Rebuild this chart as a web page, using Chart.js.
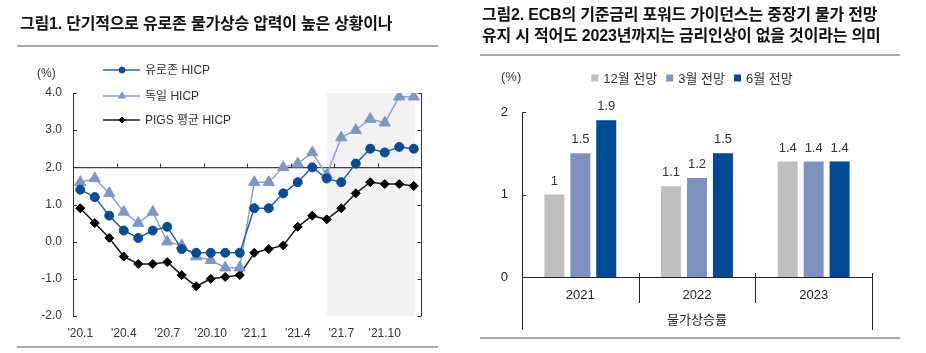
<!DOCTYPE html>
<html><head><meta charset="utf-8">
<script src="https://cdn.jsdelivr.net/npm/chart.js@4.4.1/dist/chart.umd.min.js"></script>
<style>
html,body{margin:0;padding:0;background:#fff;}
body{width:926px;height:353px;position:relative;overflow:hidden;font-family:"Liberation Sans","Noto Sans CJK KR",sans-serif;color:#111;}
.t{position:absolute;font-weight:bold;font-size:16px;line-height:21px;white-space:nowrap;letter-spacing:-0.2px;color:#111;}
.rule{position:absolute;height:2px;background:#a8a8a8;}
canvas{position:absolute;top:0;}
.unit{position:absolute;font-size:12px;line-height:14px;color:#333;white-space:nowrap;}
</style></head><body>
<canvas id="c1" width="440" height="353" style="left:0"></canvas>
<canvas id="c2" width="466" height="353" style="left:460px"></canvas>
<div class="t" style="left:20px;top:13px">그림1. 단기적으로 유로존 물가상승 압력이 높은 상황이나</div>
<div class="rule" style="left:17px;top:45px;width:421px"></div>
<div class="rule" style="left:17px;top:346px;width:421px"></div>
<div class="t" style="left:482px;top:4px">그림2. ECB의 기준금리 포워드 가이던스는 중장기 물가 전망</div>
<div class="t" style="left:482px;top:25px">유지 시 적어도 2023년까지는 금리인상이 없을 것이라는 의미</div>
<div class="rule" style="left:480px;top:54px;width:420px"></div>
<div class="rule" style="left:480px;top:337px;width:420px"></div>
<div class="unit" style="left:37px;top:66px">(%)</div>
<div class="unit" style="left:501px;top:70px;font-family:'Liberation Sans Narrow','Liberation Sans',sans-serif;font-size:13px">(%)</div>
<script>
// ---------- Chart 1 data ----------
const months = ["'20.1","'20.2","'20.3","'20.4","'20.5","'20.6","'20.7","'20.8","'20.9","'20.10","'20.11","'20.12",
                "'21.1","'21.2","'21.3","'21.4","'21.5","'21.6","'21.7","'21.8","'21.9","'21.10","'21.11","'21.12"];
const eurozone = [1.4,1.2,0.7,0.3,0.1,0.3,0.4,-0.2,-0.3,-0.3,-0.3,-0.3, 0.9,0.9,1.3,1.6,2.0,1.7,1.6,2.1,2.5,2.4,2.55,2.5];
const germany  = [1.6,1.7,1.3,0.8,0.5,0.8,0.0,-0.1,-0.4,-0.5,-0.7,-0.7, 1.6,1.6,2.0,2.1,2.4,1.8,2.8,3.0,3.3,3.2,3.9,3.9];
const pigs     = [0.9,0.5,0.1,-0.4,-0.6,-0.6,-0.55,-0.9,-1.2,-1.0,-0.95,-0.9, -0.3,-0.2,-0.1,0.4,0.7,0.6,0.9,1.3,1.6,1.55,1.55,1.5];
const seriesNames1 = ["유로존 HICP","독일 HICP","PIGS 평균 HICP"];
const shadeFrom = "'21.6", shadeTo = "'21.12";
const refLine = 2.0;

// ---------- Chart 2 data ----------
const years = ["2021","2022","2023"];
const decForecast = [1.0,1.1,1.4];
const marForecast = [1.5,1.2,1.4];
const junForecast = [1.9,1.5,1.4];
const seriesNames2 = ["12월 전망","3월 전망","6월 전망"];
const axisTitle2 = "물가상승률";

const FONT = '"Liberation Sans","Noto Sans CJK KR",sans-serif';
const NFONT = '"Liberation Sans Narrow","Liberation Sans","Noto Sans CJK KR",sans-serif';

function marker(ctx, style, x, y, r, fill, stroke){
  ctx.beginPath();
  if(style==='circle'){ ctx.arc(x,y,r,0,Math.PI*2); }
  else if(style==='triangle'){
    ctx.moveTo(x, y-r); ctx.lineTo(x+r*0.866, y+r*0.5); ctx.lineTo(x-r*0.866, y+r*0.5); ctx.closePath();
  } else { ctx.moveTo(x-r,y); ctx.lineTo(x,y-r); ctx.lineTo(x+r,y); ctx.lineTo(x,y+r); ctx.closePath(); }
  ctx.fillStyle=fill; ctx.fill();
  ctx.strokeStyle=stroke; ctx.lineWidth=1; ctx.stroke();
}

const decor1 = {
  id:'decor1',
  beforeDraw(chart){
    const {ctx, chartArea:a} = chart; const x=chart.scales.x;
    const x0 = x.getPixelForValue(months.indexOf(shadeFrom));
    const x1 = x.getPixelForValue(months.indexOf(shadeTo))+1;
    ctx.save(); ctx.fillStyle='#F2F2F2'; ctx.fillRect(x0,a.top,x1-x0,a.bottom-a.top); ctx.restore();
  },
  afterDraw(chart){
    const {ctx, chartArea:a} = chart; const x=chart.scales.x, y=chart.scales.y;
    ctx.save(); ctx.strokeStyle='#333'; ctx.lineWidth=1;
    ctx.beginPath();
    const rx = Math.round(a.right)+0.5;
    ctx.moveTo(rx,a.top); ctx.lineTo(rx,a.bottom);
    y.ticks.forEach(t=>{
      const py=Math.round(y.getPixelForValue(t.value))+0.5;
      ctx.moveTo(a.left,py); ctx.lineTo(a.left+4,py);
      ctx.moveTo(rx,py); ctx.lineTo(rx-4,py);
    });
    const y2 = Math.round(y.getPixelForValue(refLine))+0.5;
    for(let i=3;i<months.length;i+=3){
      const bx=Math.round((x.getPixelForValue(i-1)+x.getPixelForValue(i))/2)+0.5;
      ctx.moveTo(bx,y2); ctx.lineTo(bx,y2-4);
    }
    ctx.stroke();
    // legend
    const rows=[70,96,120], rr=[3,4,3];
    chart.data.datasets.forEach((ds,i)=>{
      const yy=rows[i];
      ctx.strokeStyle=ds.borderColor; ctx.lineWidth=1.5;
      ctx.beginPath(); ctx.moveTo(103,yy); ctx.lineTo(140,yy); ctx.stroke();
      marker(ctx, ds.pointStyle, 122, yy, rr[i], ds.pointBackgroundColor, ds.pointBorderColor);
      ctx.fillStyle='#333'; ctx.font='12px '+FONT; ctx.textBaseline='middle'; ctx.textAlign='left';
      ctx.fillText(ds.label,145,yy+1);
    });
    ctx.restore();
  }
};

new Chart(document.getElementById('c1'), {
  type:'line',
  data:{labels:months, datasets:[
    {label:seriesNames1[0], data:eurozone, borderColor:'#2A62A6', borderWidth:1.5, pointStyle:'circle', pointRadius:4.5,
     pointBackgroundColor:'#0A4C94', pointBorderColor:'#0A4C94', pointBorderWidth:1},
    {label:seriesNames1[1], data:germany, borderColor:'#8EA2CF', borderWidth:1.5, pointStyle:'triangle', pointRadius:6.5,
     pointBackgroundColor:'#8096C5', pointBorderColor:'#8096C5', pointBorderWidth:1},
    {label:seriesNames1[2], data:pigs, borderColor:'#1a1a1a', borderWidth:1.5, pointStyle:'rectRot', pointRadius:4.5,
     pointBackgroundColor:'#000', pointBorderColor:'#000', pointBorderWidth:1}
  ]},
  options:{
    responsive:false, devicePixelRatio:1, animation:false,
    layout:{padding:{top:93,right:19,bottom:12,left:0}},
    plugins:{legend:{display:false}, tooltip:{enabled:false}},
    scales:{
      x:{offset:true, grid:{display:false, drawTicks:false}, border:{display:false},
         afterFit(s){s.height=25;},
         ticks:{autoSkip:false, maxRotation:0, minRotation:0, padding:10, color:'#333', font:{family:FONT,size:12},
                callback:(v,i)=> i%3===0 ? months[i] : ''}},
      y:{min:-2, max:4, afterFit(s){s.width=73;},
         grid:{drawTicks:false, color:c=> c.tick && c.tick.value===refLine ? '#404040' : 'rgba(0,0,0,0)', lineWidth:1.2},
         border:{display:true, color:'#333', width:1},
         ticks:{stepSize:1, padding:11, color:'#333', font:{family:FONT,size:12}, callback:v=>Number(v).toFixed(1)}}
    }
  },
  plugins:[decor1]
});

// ---------- Chart 2 ----------
const decor2 = {
  id:'decor2',
  afterDraw(chart){
    const {ctx, chartArea:a} = chart; const x=chart.scales.x, y=chart.scales.y;
    ctx.save(); ctx.strokeStyle='#222'; ctx.lineWidth=1;
    const half=(x.getPixelForValue(1)-x.getPixelForValue(0))/2;
    ctx.beginPath();
    for(let i=0;i<=years.length;i++){
      const bx=Math.round(x.getPixelForValue(0)-half+i*half*2)+0.5;
      const outer = (i===0||i===years.length);
      const top = i===0 ? a.bottom : a.bottom-4;
      ctx.moveTo(bx, top); ctx.lineTo(bx, outer ? 330 : 303);
    }
    y.ticks.forEach(t=>{
      const py=Math.round(y.getPixelForValue(t.value))+0.5;
      ctx.moveTo(a.left,py); ctx.lineTo(a.left+4,py);
    });
    ctx.stroke();
    // data labels
    ctx.fillStyle='#333'; ctx.font='13px '+NFONT; ctx.textAlign='center'; ctx.textBaseline='bottom';
    chart.data.datasets.forEach((ds,di)=>{
      chart.getDatasetMeta(di).data.forEach((el,j)=>{
        const v=ds.data[j];
        ctx.fillText(Number.isInteger(v)?String(v):v.toFixed(1), el.x, el.y-7);
      });
    });
    // legend
    ctx.font='13px '+NFONT; ctx.textAlign='left'; ctx.textBaseline='middle';
    const sq=7, g1=5, g2=9;
    const widths=chart.data.datasets.map(ds=>ctx.measureText(ds.label).width);
    const total=widths.reduce((s,w)=>s+sq+g1+w,0)+g2*(widths.length-1);
    let cx=232-total/2; const ly=78;
    chart.data.datasets.forEach((ds,i)=>{
      ctx.fillStyle=ds.backgroundColor; ctx.fillRect(cx, ly-sq/2, sq, sq);
      ctx.fillStyle='#333'; ctx.fillText(ds.label, cx+sq+g1, ly+1);
      cx += sq+g1+widths[i]+g2;
    });
    ctx.restore();
  }
};

new Chart(document.getElementById('c2'), {
  type:'bar',
  data:{labels:years, datasets:[
    {label:seriesNames2[0], data:decForecast, backgroundColor:'#BFBFBF'},
    {label:seriesNames2[1], data:marForecast, backgroundColor:'#7F91BE'},
    {label:seriesNames2[2], data:junForecast, backgroundColor:'#004A93'}
  ]},
  options:{
    responsive:false, devicePixelRatio:1, animation:false,
    categoryPercentage:0.667, barPercentage:0.77,
    layout:{padding:{top:112,right:54,bottom:0,left:0}},
    plugins:{legend:{display:false}, tooltip:{enabled:false}},
    scales:{
      x:{grid:{display:false, drawTicks:false}, border:{display:true, color:'#222', width:1},
         afterFit(s){s.height=76;},
         ticks:{padding:11, color:'#222', font:{family:NFONT,size:13}, maxRotation:0},
         title:{display:true, text:axisTitle2, color:'#222', font:{family:NFONT,size:13}, padding:{top:0,bottom:25}}},
      y:{min:0, max:2, afterFit(s){s.width=62;},
         grid:{display:false, drawTicks:false}, border:{display:true, color:'#222', width:1},
         ticks:{stepSize:1, padding:14, color:'#222', font:{family:NFONT,size:13}}}
    }
  },
  plugins:[decor2]
});
</script>
</body></html>
